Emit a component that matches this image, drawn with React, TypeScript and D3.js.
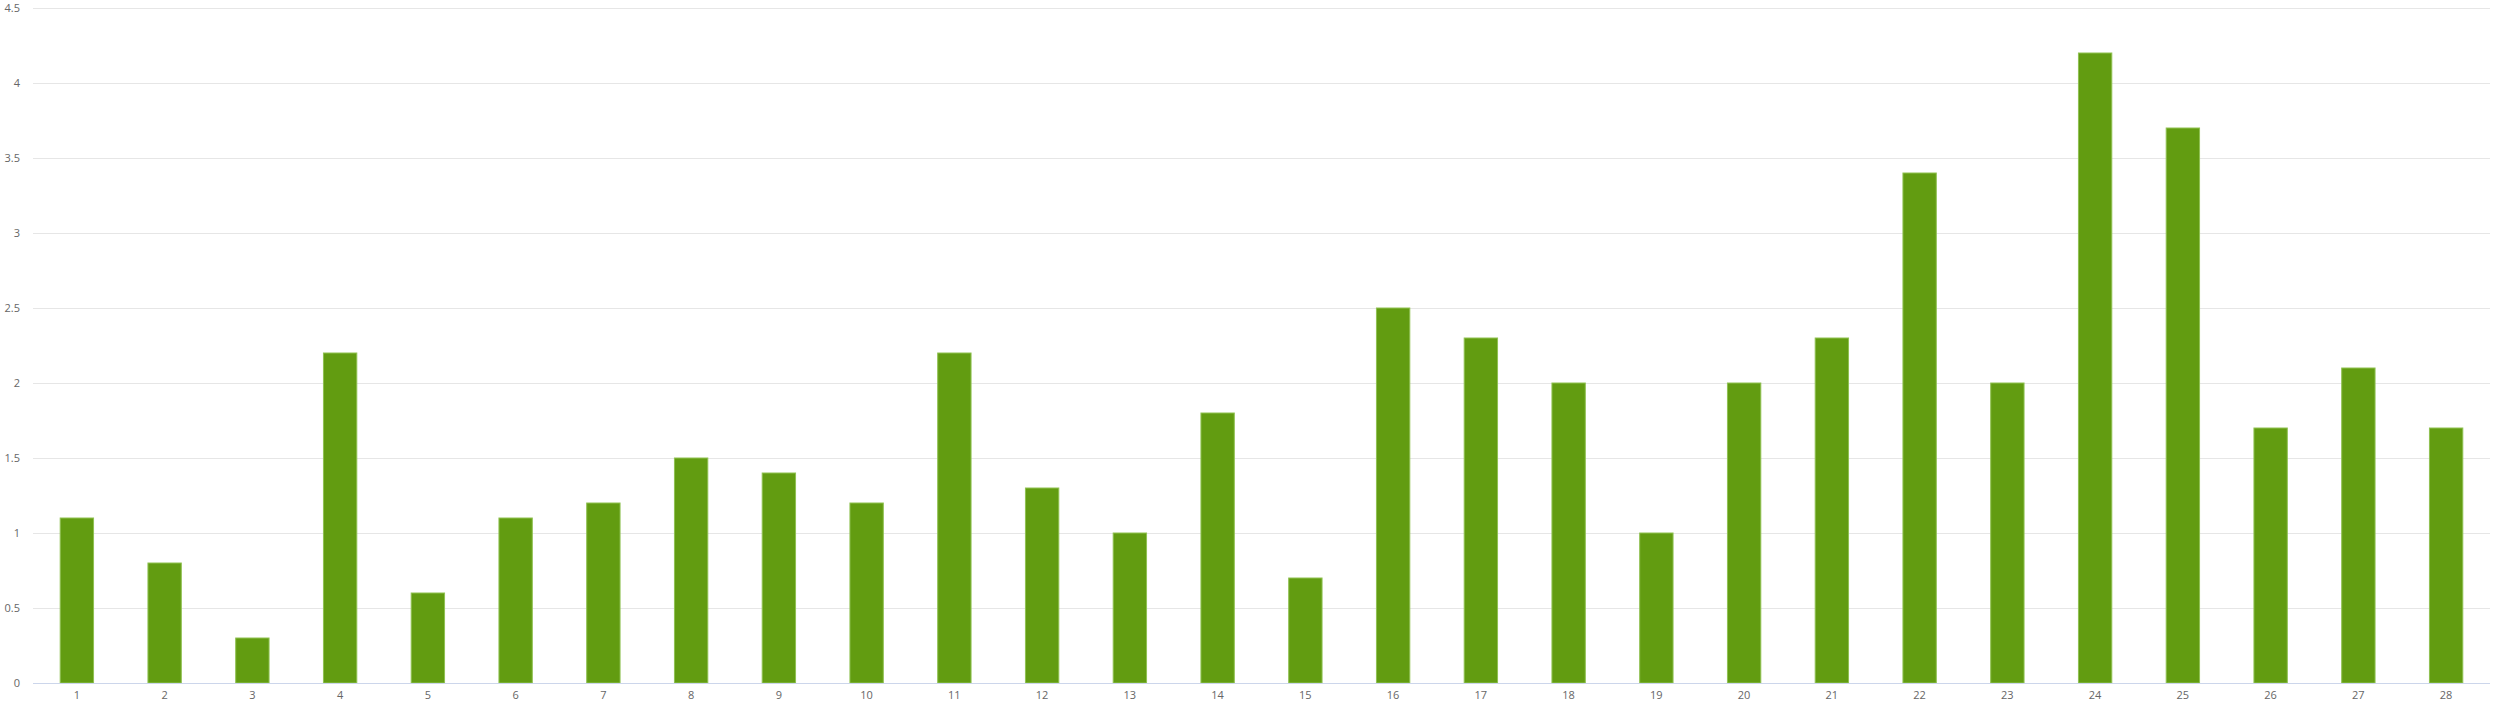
import React from 'react';
import * as d3 from 'd3';

const categories = ['1', '2', '3', '4', '5', '6', '7', '8', '9', '10', '11', '12', '13', '14', '15', '16', '17', '18', '19', '20', '21', '22', '23', '24', '25', '26', '27', '28'];
const values = [1.1, 0.8, 0.3, 2.2, 0.6, 1.1, 1.2, 1.5, 1.4, 1.2, 2.2, 1.3, 1.0, 1.8, 0.7, 2.5, 2.3, 2.0, 1.0, 2.0, 2.3, 3.4, 2.0, 4.2, 3.7, 1.7, 2.1, 1.7];
const yTicks = [0, 0.5, 1, 1.5, 2, 2.5, 3, 3.5, 4, 4.5];

const width = 2500;
const height = 706;
const margin = { top: 8, right: 10, bottom: 23, left: 33 };

function App() {
  const ref = React.useRef<SVGSVGElement>(null);

  React.useEffect(() => {
    const svg = d3.select(ref.current);
    svg.selectAll('*').remove();

    const x = d3
      .scaleBand()
      .domain(categories)
      .range([margin.left, width - margin.right])
      .paddingInner(0.62)
      .paddingOuter(0.31);

    const y = d3
      .scaleLinear()
      .domain([0, 4.5])
      .range([height - margin.bottom, margin.top]);

    // gridlines
    svg
      .append('g')
      .selectAll('line')
      .data(yTicks.filter((t) => t > 0))
      .join('line')
      .attr('x1', margin.left)
      .attr('x2', width - margin.right)
      .attr('y1', (d) => Math.round(y(d)) + 0.5)
      .attr('y2', (d) => Math.round(y(d)) + 0.5)
      .attr('stroke', '#e6e6e6')
      .attr('stroke-width', 1);

    // y labels
    svg
      .append('g')
      .selectAll('text')
      .data(yTicks)
      .join('text')
      .attr('x', 20)
      .attr('y', (d) => y(d) + 4)
      .attr('text-anchor', 'end')
      .attr('fill', '#666666')
      .attr('font-size', 11)
      .text((d) => String(d));

    // bars
    svg
      .append('g')
      .selectAll('rect')
      .data(values)
      .join('rect')
      .attr('x', (_, i) => x(categories[i])!)
      .attr('width', x.bandwidth())
      .attr('y', (d) => y(d))
      .attr('height', (d) => y(0) - y(d))
      .attr('fill', '#629c11')
      .attr('stroke', '#8fc151')
      .attr('stroke-width', 1);

    // x axis line
    svg
      .append('line')
      .attr('x1', margin.left)
      .attr('x2', width - margin.right)
      .attr('y1', Math.round(y(0)) + 0.5)
      .attr('y2', Math.round(y(0)) + 0.5)
      .attr('stroke', '#ccd6eb');

    // x labels
    svg
      .append('g')
      .selectAll('text')
      .data(categories)
      .join('text')
      .attr('x', (d) => x(d)! + x.bandwidth() / 2)
      .attr('y', height - 7)
      .attr('text-anchor', 'middle')
      .attr('fill', '#666666')
      .attr('font-size', 11)
      .text((d) => d);
  }, []);

  return (
    <>
      <style>{'body{margin:0}'}</style>
      <svg
        ref={ref}
        width={width}
        height={height}
        style={{ display: 'block', background: '#ffffff', fontFamily: '"Open Sans", "DejaVu Sans", sans-serif' }}
      />
    </>
  );
}

export default App;
